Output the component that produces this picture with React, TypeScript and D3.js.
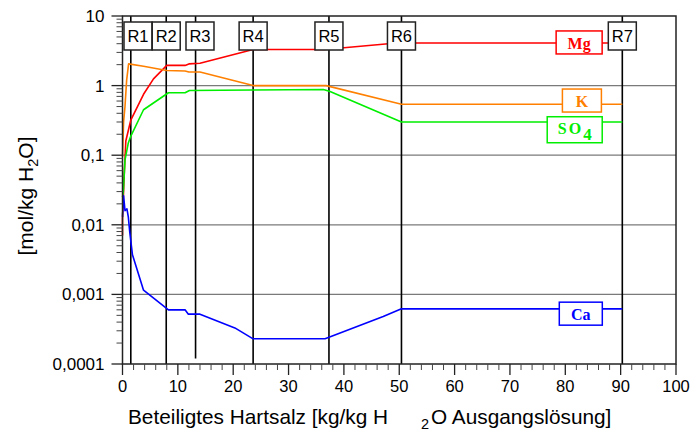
import * as d3 from 'd3';

// x: Beteiligtes Hartsalz [kg/kg H2O], y: mol/kg H2O
const mgX = [0, 0, 0.3, 0.6, 1.5, 3.8, 5.6, 8, 11.3, 12, 14, 23.6, 36.5, 48, 50.4, 90.3];
const mgY = [0.007, 0.012, 0.05, 0.16, 0.32, 0.75, 1.25, 1.95, 1.95, 2.05, 2.1, 3.3, 3.3, 4.0, 4.1, 4.1];

const kX = [0, 0.2, 0.45, 0.75, 1.1, 3.8, 8, 11.3, 12, 14, 23.6, 36.8, 50.4, 90.3];
const kY = [0.095, 0.3, 0.5, 1.2, 2.05, 1.9, 1.65, 1.62, 1.57, 1.57, 1.0, 1.0, 0.54, 0.54];

const so4X = [0, 0.15, 0.45, 1.05, 1.4, 3.8, 8.3, 11.3, 12.1, 23.6, 36.3, 37.5, 50.4, 90.3];
const so4Y = [0.025, 0.03, 0.085, 0.15, 0.18, 0.45, 0.79, 0.79, 0.85, 0.865, 0.88, 0.82, 0.3, 0.3];

const caX = [0, 0.2, 0.45, 0.8, 1.05, 1.3, 1.8, 3.8, 8.3, 11.3, 11.9, 14, 20.3, 23.6, 36.6, 47.1, 50.4, 90.3];
const caY = [0.013, 0.026, 0.016, 0.017, 0.013, 0.008, 0.0037, 0.00115, 0.0006, 0.0006, 0.00052, 0.00052, 0.00033, 0.00023, 0.00023, 0.00048, 0.00062, 0.00062];

// reaction steps
const stepNames = ['R1', 'R2', 'R3', 'R4', 'R5', 'R6', 'R7'];
const stepX = [1.5, 7.9, 13.2, 23.6, 37.3, 50.4, 90.3];
const stepLabelX = [2.8, 7.9, 14.0, 23.6, 37.3, 50.4, 90.3];
const stepBottom = [0.0001, 0.0001, 0.00012, 0.0001, 0.0001, 0.0001, 0.0001];

const yTicks = [10, 1, 0.1, 0.01, 0.001, 0.0001];
const yTickLabels = ['10', '1', '0,1', '0,01', '0,001', '0,0001'];
const xTicks = [0, 10, 20, 30, 40, 50, 60, 70, 80, 90, 100];

const series = [
  { name: 'Mg', xs: mgX, ys: mgY, color: '#ff0000', labelX: 82.5, labelY: 4.1, boxW: 46 },
  { name: 'K', xs: kX, ys: kY, color: '#ff8000', labelX: 83, labelY: 0.6, boxW: 39 },
  { name: 'SO4', xs: so4X, ys: so4Y, color: '#00ee00', labelX: 81.7, labelY: 0.24, boxW: 55 },
  { name: 'Ca', xs: caX, ys: caY, color: '#0000ff', labelX: 82.8, labelY: 0.00052, boxW: 43 },
];

const margin = { top: 16, right: 14, bottom: 69, left: 122.5 };
const W = 690;
const H = 433;

export default function App() {
  const x = d3.scaleLinear().domain([0, 100]).range([margin.left, W - margin.right]);
  const y = d3.scaleLog().domain([0.0001, 10]).range([H - margin.bottom, margin.top]);

  const minorY: number[] = [];
  for (let e = -4; e < 1; e++) {
    for (let m = 2; m < 10; m++) minorY.push(m * Math.pow(10, e));
  }
  const minorX = d3.range(0, 101, 2).filter((v) => v % 10 !== 0);

  return (
    <svg
      width={W}
      height={H}
      style={{ position: 'fixed', left: 0, top: 0, background: '#fff' }}
      fontFamily="Arial, 'Liberation Sans', sans-serif"
    >
      {/* decade grid */}
      {yTicks.slice(1, -1).map((t) => (
        <line key={t} x1={x(0)} x2={x(100)} y1={y(t)} y2={y(t)} stroke="#7a7a7a" strokeWidth={1.3} />
      ))}

      {/* reaction step lines */}
      {stepX.map((v, i) => (
        <line key={stepNames[i]} x1={x(v)} x2={x(v)} y1={y(10)} y2={y(stepBottom[i])} stroke="#000" strokeWidth={1.6} />
      ))}

      {/* series */}
      {series.map((s) => {
        const pts = s.xs.map((v, i) => [x(v), y(s.ys[i])] as [number, number]);
        const path = d3.line()(pts) || '';
        return <path key={s.name} d={path} fill="none" stroke={s.color} strokeWidth={1.6} strokeLinejoin="round" />;
      })}

      {/* frame */}
      <rect x={x(0)} y={y(10)} width={x(100) - x(0)} height={y(0.0001) - y(10)} fill="none" stroke="#222" strokeWidth={1.5} />

      {/* y ticks */}
      {yTicks.map((t, i) => (
        <g key={t}>
          <line x1={x(0) - 11} x2={x(0)} y1={y(t)} y2={y(t)} stroke="#222" strokeWidth={1.3} />
          <text x={x(0) - 18} y={y(t)} dy="0.35em" textAnchor="end" fontSize={17}>
            {yTickLabels[i]}
          </text>
        </g>
      ))}
      {minorY.map((t) => (
        <line key={t} x1={x(0) - 6} x2={x(0)} y1={y(t)} y2={y(t)} stroke="#444" strokeWidth={1} />
      ))}

      {/* x ticks */}
      {xTicks.map((t) => (
        <g key={t}>
          <line x1={x(t)} x2={x(t)} y1={y(0.0001)} y2={y(0.0001) + 11} stroke="#222" strokeWidth={1.3} />
          <text x={x(t)} y={y(0.0001) + 28} textAnchor="middle" fontSize={16.5}>
            {t}
          </text>
        </g>
      ))}
      {minorX.map((t) => (
        <line key={t} x1={x(t)} x2={x(t)} y1={y(0.0001)} y2={y(0.0001) + 6} stroke="#444" strokeWidth={1} />
      ))}

      {/* step labels */}
      {stepNames.map((n, i) => (
        <g key={n}>
          <rect x={x(stepLabelX[i]) - 14} y={22} width={28} height={28} fill="#fff" stroke="#222" strokeWidth={1.5} />
          <text x={x(stepLabelX[i])} y={36} dy="0.36em" textAnchor="middle" fontSize={16.5}>
            {n}
          </text>
        </g>
      ))}

      {/* series labels */}
      {series.map((s) => {
        const cx = x(s.labelX);
        const cy = y(s.labelY);
        return (
          <g key={'l' + s.name}>
            <rect x={cx - s.boxW / 2} y={cy - 12} width={s.boxW} height={s.name === 'SO4' ? 26 : 23} fill="#fff" stroke={s.color} strokeWidth={1.5} />
            <text
              x={cx}
              y={cy}
              dy="0.36em"
              textAnchor="middle"
              fontSize={16}
              fontWeight="bold"
              fontFamily="'Liberation Serif', 'Times New Roman', serif"
              fill={s.color}
            >
              {s.name === 'SO4' ? (
                <>
                  <tspan letterSpacing={2}>SO</tspan>
                  <tspan dy={6} fontSize={17}>4</tspan>
                </>
              ) : (
                s.name
              )}
            </text>
          </g>
        );
      })}

      {/* axis titles */}
      <text x={128} y={424} fontSize={20.8}>
        Beteiligtes Hartsalz [kg/kg H
      </text>
      <text x={421} y={429} fontSize={14.5}>2</text>
      <text x={431} y={424} fontSize={20.8}>
        O Ausgangslösung]
      </text>
      <text transform="translate(33,196) rotate(-90)" textAnchor="middle" fontSize={21}>
        [mol/kg H<tspan dy={5} fontSize={14.5}>2</tspan>
        <tspan dy={-5}>O]</tspan>
      </text>
    </svg>
  );
}
